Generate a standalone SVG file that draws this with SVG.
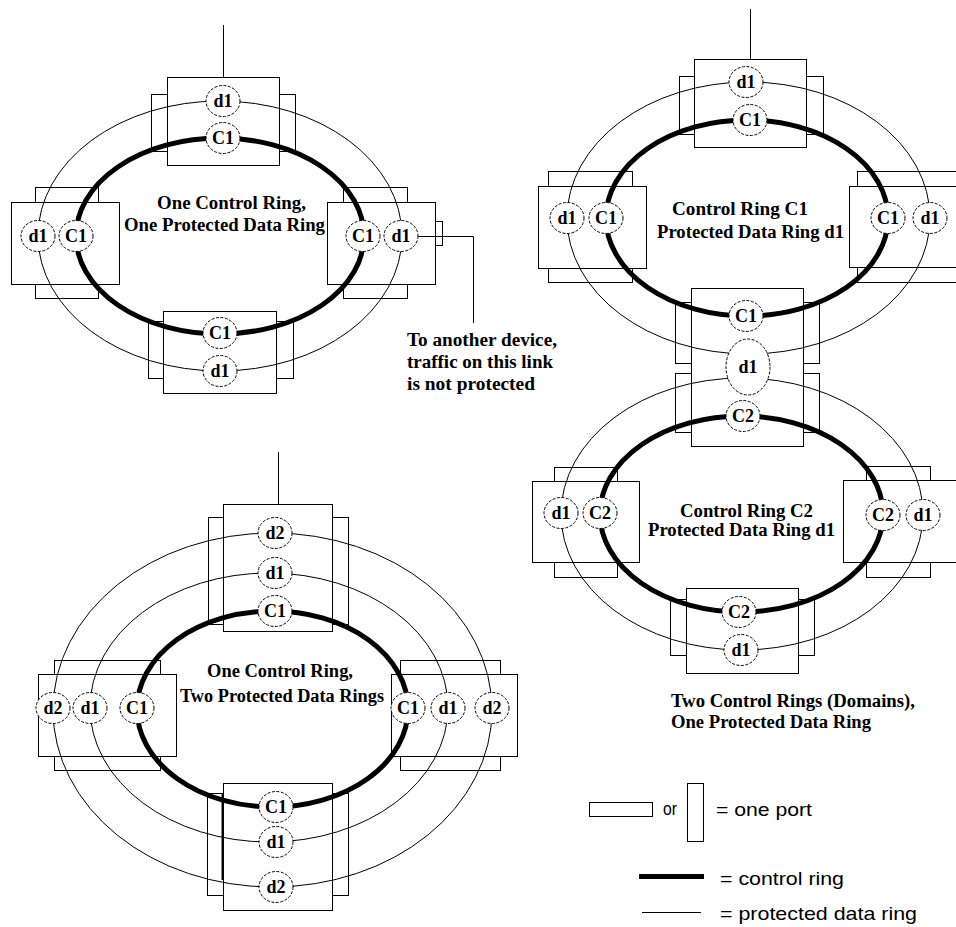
<svg xmlns="http://www.w3.org/2000/svg" width="956" height="927" viewBox="0 0 956 927">
<style>
.box{fill:#fff;stroke:#000;stroke-width:1}
.ctrl{fill:none;stroke:#000;stroke-width:5}
.data{fill:none;stroke:#000;stroke-width:1}
.link{fill:none;stroke:#000;stroke-width:1}
.port{fill:#fff;stroke:#000;stroke-width:1;stroke-dasharray:3 1.5}
.pl{font-family:"Liberation Serif","Times New Roman",serif;font-weight:bold;font-size:18px;text-anchor:middle}
.cap{font-family:"Liberation Serif","Times New Roman",serif;font-weight:bold;font-size:18px}
.leg{font-family:"Liberation Sans",Arial,sans-serif;font-size:19px}
</style>
<rect width="956" height="927" fill="#fff"/>

<!-- Nodes (device boxes) -->
<g id="tl-top"><rect class="box" x="151.5" y="94.5" width="144" height="57"/><rect class="box" x="167.5" y="77.5" width="112" height="88"/></g>
<g id="tl-left"><rect class="box" x="35.5" y="187.5" width="63" height="111"/><rect class="box" x="11.5" y="202.5" width="108" height="82"/></g>
<g id="tl-right"><rect class="box" x="343.5" y="187.5" width="64" height="111"/><rect class="box" x="327.5" y="202.5" width="108" height="82"/><rect class="box" x="435.5" y="221.5" width="7" height="24"/></g>
<g id="tl-bottom"><rect class="box" x="148.5" y="321.5" width="145" height="57"/><rect class="box" x="163.5" y="311.5" width="113" height="82"/></g>

<g id="tr-top"><rect class="box" x="679.5" y="76.5" width="144" height="58"/><rect class="box" x="694.5" y="59.5" width="112" height="88"/></g>
<g id="tr-left"><rect class="box" x="548.5" y="171.5" width="84" height="111"/><rect class="box" x="538.5" y="186.5" width="108" height="82"/></g>
<g id="tr-right"><rect class="box" x="857.5" y="171.5" width="120" height="111"/><rect class="box" x="849.5" y="186.5" width="120" height="81"/></g>
<g id="tr-middle"><rect class="box" x="675.5" y="302.5" width="144" height="61"/><rect class="box" x="675.5" y="373.5" width="144" height="59"/><rect class="box" x="691.5" y="288.5" width="112" height="158"/></g>
<g id="tr-lower-left"><rect class="box" x="554.5" y="467.5" width="63" height="110"/><rect class="box" x="532.5" y="481.5" width="107" height="81"/></g>
<g id="tr-lower-right"><rect class="box" x="866.5" y="466.5" width="64" height="111"/><rect class="box" x="843.5" y="480.5" width="130" height="82"/></g>
<g id="tr-bottom"><rect class="box" x="670.5" y="599.5" width="144" height="56"/><rect class="box" x="686.5" y="588.5" width="112" height="85"/></g>

<g id="bl-top"><rect class="box" x="208.5" y="517.5" width="140" height="107"/><rect class="box" x="223.5" y="504.5" width="109" height="127"/></g>
<g id="bl-left"><rect class="box" x="54.5" y="660.5" width="106" height="110"/><rect class="box" x="38.5" y="674.5" width="138" height="82"/></g>
<g id="bl-right"><rect class="box" x="400.5" y="660.5" width="100" height="110"/><rect class="box" x="391.5" y="674.5" width="126" height="82"/></g>
<g id="bl-bottom"><rect class="box" x="207.5" y="793.5" width="141" height="102"/><rect class="box" x="223.5" y="783.5" width="109" height="127"/><line x1="222.5" y1="793" x2="222.5" y2="880" stroke="#000" stroke-width="2"/></g>

<!-- Connectors (rings and links) -->
<g id="connectors">
<ellipse class="data" cx="220" cy="236" rx="182" ry="135"/>
<ellipse class="ctrl" cx="220" cy="236" rx="144" ry="98"/>
<line class="link" x1="223.5" y1="25" x2="223.5" y2="77"/>
<polyline class="link" points="418,236.5 473.5,236.5 473.5,323"/>

<ellipse class="data" cx="748.5" cy="218" rx="181.5" ry="136"/>
<ellipse class="ctrl" cx="747" cy="218" rx="141" ry="98"/>
<ellipse class="data" cx="742" cy="514" rx="181" ry="136"/>
<ellipse class="ctrl" cx="741.5" cy="514" rx="141.5" ry="98"/>
<line class="link" x1="750.5" y1="9" x2="750.5" y2="59"/>

<ellipse class="data" cx="272.5" cy="710" rx="219.5" ry="177"/>
<ellipse class="data" cx="269" cy="707.5" rx="179" ry="134.5"/>
<ellipse class="ctrl" cx="272.5" cy="709" rx="135.5" ry="98"/>
<line class="link" x1="278.5" y1="452" x2="278.5" y2="504"/>
</g>

<!-- Ring ports -->
<g id="tl-ports">
<ellipse class="port" cx="223" cy="101" rx="17" ry="15.5"/><text class="pl" x="223" y="107">d1</text>
<ellipse class="port" cx="223" cy="138" rx="17" ry="15.5"/><text class="pl" x="223" y="144">C1</text>
<ellipse class="port" cx="38" cy="236" rx="17" ry="15.5"/><text class="pl" x="38" y="242">d1</text>
<ellipse class="port" cx="76" cy="236" rx="17" ry="15.5"/><text class="pl" x="76" y="242">C1</text>
<ellipse class="port" cx="363" cy="236" rx="17" ry="15.5"/><text class="pl" x="363" y="242">C1</text>
<ellipse class="port" cx="401" cy="236" rx="17" ry="15.5"/><text class="pl" x="401" y="242">d1</text>
<ellipse class="port" cx="220" cy="333" rx="17" ry="15.5"/><text class="pl" x="220" y="339">C1</text>
<ellipse class="port" cx="220" cy="371" rx="17" ry="15.5"/><text class="pl" x="220" y="377">d1</text>
</g>
<g id="tr-ports">
<ellipse class="port" cx="746" cy="82" rx="17" ry="15.5"/><text class="pl" x="746" y="88">d1</text>
<ellipse class="port" cx="750" cy="120" rx="17" ry="15.5"/><text class="pl" x="750" y="126">C1</text>
<ellipse class="port" cx="567" cy="218" rx="17" ry="15.5"/><text class="pl" x="567" y="224">d1</text>
<ellipse class="port" cx="606" cy="218" rx="17" ry="15.5"/><text class="pl" x="606" y="224">C1</text>
<ellipse class="port" cx="888" cy="218" rx="17" ry="15.5"/><text class="pl" x="888" y="224">C1</text>
<ellipse class="port" cx="930" cy="218" rx="17" ry="15.5"/><text class="pl" x="930" y="224">d1</text>
<ellipse class="port" cx="746" cy="316" rx="17" ry="15.5"/><text class="pl" x="746" y="322">C1</text>
<ellipse class="port" cx="748" cy="367" rx="22" ry="28"/><text class="pl" x="748" y="373">d1</text>
<ellipse class="port" cx="743" cy="416" rx="17" ry="15.5"/><text class="pl" x="743" y="422">C2</text>
<ellipse class="port" cx="561" cy="513" rx="17" ry="15.5"/><text class="pl" x="561" y="519">d1</text>
<ellipse class="port" cx="600" cy="513" rx="17" ry="15.5"/><text class="pl" x="600" y="519">C2</text>
<ellipse class="port" cx="883" cy="515" rx="17" ry="15.5"/><text class="pl" x="883" y="521">C2</text>
<ellipse class="port" cx="923" cy="515" rx="17" ry="15.5"/><text class="pl" x="923" y="521">d1</text>
<ellipse class="port" cx="739" cy="612" rx="17" ry="15.5"/><text class="pl" x="739" y="618">C2</text>
<ellipse class="port" cx="741" cy="650" rx="17" ry="15.5"/><text class="pl" x="741" y="656">d1</text>
</g>
<g id="bl-ports">
<ellipse class="port" cx="275" cy="533" rx="17" ry="15.5"/><text class="pl" x="275" y="539">d2</text>
<ellipse class="port" cx="275" cy="573" rx="17" ry="15.5"/><text class="pl" x="275" y="579">d1</text>
<ellipse class="port" cx="275" cy="611" rx="17" ry="15.5"/><text class="pl" x="275" y="617">C1</text>
<ellipse class="port" cx="53" cy="708" rx="17" ry="15.5"/><text class="pl" x="53" y="714">d2</text>
<ellipse class="port" cx="90" cy="708" rx="17" ry="15.5"/><text class="pl" x="90" y="714">d1</text>
<ellipse class="port" cx="137" cy="708" rx="17" ry="15.5"/><text class="pl" x="137" y="714">C1</text>
<ellipse class="port" cx="408" cy="708" rx="17" ry="15.5"/><text class="pl" x="408" y="714">C1</text>
<ellipse class="port" cx="448" cy="708" rx="17" ry="15.5"/><text class="pl" x="448" y="714">d1</text>
<ellipse class="port" cx="492" cy="708" rx="17" ry="15.5"/><text class="pl" x="492" y="714">d2</text>
<ellipse class="port" cx="276" cy="807" rx="17" ry="15.5"/><text class="pl" x="276" y="813">C1</text>
<ellipse class="port" cx="276" cy="842" rx="17" ry="15.5"/><text class="pl" x="276" y="848">d1</text>
<ellipse class="port" cx="276" cy="887" rx="17" ry="15.5"/><text class="pl" x="276" y="893">d2</text>
</g>

<!-- Captions -->
<g id="captions">
<text class="cap" x="157" y="209" textLength="149" lengthAdjust="spacingAndGlyphs">One Control Ring,</text>
<text class="cap" x="124" y="231" textLength="201" lengthAdjust="spacingAndGlyphs">One Protected Data Ring</text>
<text class="cap" x="407" y="346" textLength="150" lengthAdjust="spacingAndGlyphs">To another device,</text>
<text class="cap" x="407" y="368" textLength="146" lengthAdjust="spacingAndGlyphs">traffic on this link</text>
<text class="cap" x="407" y="390" textLength="128" lengthAdjust="spacingAndGlyphs">is not protected</text>
<text class="cap" x="672" y="215" textLength="136" lengthAdjust="spacingAndGlyphs">Control Ring C1</text>
<text class="cap" x="657" y="238" textLength="187" lengthAdjust="spacingAndGlyphs">Protected Data Ring d1</text>
<text class="cap" x="680" y="517" textLength="133" lengthAdjust="spacingAndGlyphs">Control Ring C2</text>
<text class="cap" x="648" y="536" textLength="187" lengthAdjust="spacingAndGlyphs">Protected Data Ring d1</text>
<text class="cap" x="671" y="707" textLength="244" lengthAdjust="spacingAndGlyphs">Two Control Rings (Domains),</text>
<text class="cap" x="671" y="728" textLength="200" lengthAdjust="spacingAndGlyphs">One Protected Data Ring</text>
<text class="cap" x="207" y="677" textLength="146" lengthAdjust="spacingAndGlyphs">One Control Ring,</text>
<text class="cap" x="180" y="702" textLength="204" lengthAdjust="spacingAndGlyphs">Two Protected Data Rings</text>
</g>

<!-- Legend -->
<g id="legend">
<rect class="box" x="589.5" y="802.5" width="63" height="14"/>
<text class="leg" x="663" y="815" textLength="14" lengthAdjust="spacingAndGlyphs">or</text>
<rect class="box" x="687.5" y="783.5" width="16" height="58"/>
<text class="leg" x="716" y="816" textLength="96" lengthAdjust="spacingAndGlyphs">= one port</text>
<line x1="639" y1="876.5" x2="704" y2="876.5" stroke="#000" stroke-width="5"/>
<text class="leg" x="720" y="885" textLength="124" lengthAdjust="spacingAndGlyphs">= control ring</text>
<line x1="642" y1="912.5" x2="701" y2="912.5" stroke="#000" stroke-width="1"/>
<text class="leg" x="720" y="920" textLength="197" lengthAdjust="spacingAndGlyphs">= protected data ring</text>
</g>
</svg>
